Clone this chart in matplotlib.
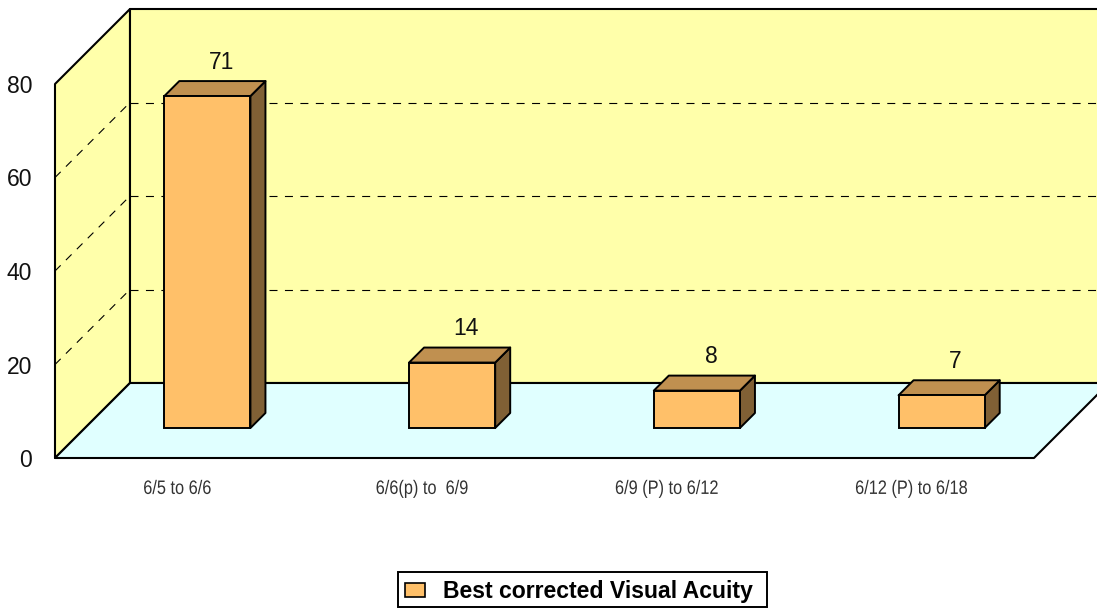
import matplotlib
matplotlib.use("Agg")
import matplotlib.pyplot as plt
from matplotlib.patches import Polygon, Patch, Rectangle
from matplotlib.patheffects import AbstractPathEffect
from matplotlib.transforms import Affine2D, IdentityTransform

categories = ["6/5 to 6/6", "6/6(p) to  6/9", "6/9 (P) to 6/12", "6/12 (P) to 6/18"]
values = [71, 14, 8, 7]
y_ticks = [0, 20, 40, 60, 80]
grid_values = [20, 40, 60]
series_name = "Best corrected Visual Acuity"

WALL = "#FFFFAA"
FLOOR = "#E0FFFF"
BAR_FRONT = "#FFC069"
BAR_TOP = "#C09050"
BAR_SIDE = "#806035"

W, H = 1097, 608
DEPTH = 75      # wall depth in pixels
BAR_NEAR = 30   # bars stand this far behind the front plane
BAR_FAR = 45
BAR_WIDTH = 0.352

plt.rcParams["font.family"] = ["Liberation Sans", "DejaVu Sans"]


class Narrow(AbstractPathEffect):
    # squeeze a text horizontally about its centre
    def __init__(self, sx):
        super().__init__()
        self.sx = sx

    def draw_path(self, renderer, gc, tpath, affine, rgbFace=None):
        ext = tpath.get_extents()
        c = (ext.x0 + ext.x1) / 2
        squeeze = Affine2D().translate(-c, 0).scale(self.sx, 1).translate(c, 0)
        renderer.draw_path(gc, tpath, squeeze + affine, rgbFace)


fig = plt.figure(figsize=(W / 100, H / 100), dpi=100)
ax = fig.add_axes([55 / W, (H - 458) / H, 979 / W, 374 / H])
ax.set_xlim(-0.5, 3.5)
ax.set_ylim(0, 80)
ax.patch.set_visible(False)
for s in ax.spines.values():
    s.set_visible(False)


def px(x, y, d=0):
    # data point pushed back by d pixels, in display coords
    a, b = ax.transData.transform((x, y))
    return a + d, b + d


def face(points, color, lw=1.4, z=1):
    ax.add_patch(Polygon(points, closed=True, facecolor=color, edgecolor="black", lw=lw,
                         joinstyle="round", transform=IdentityTransform(), clip_on=False, zorder=z))


def dashed(a, b):
    ax.plot([a[0], b[0]], [a[1], b[1]], color="black", lw=0.8, ls=(0, (7.2, 6.7)),
            transform=IdentityTransform(), clip_on=False, zorder=2)


x0, x1 = ax.get_xlim()

# walls and floor
face([px(x0, 0), px(x0, 0, DEPTH), px(x0, 80, DEPTH), px(x0, 80)], WALL, lw=1.5)
face([px(x0, 0, DEPTH), px(x1, 0, DEPTH), px(x1, 80, DEPTH), px(x0, 80, DEPTH)], WALL, lw=1.5)
face([px(x0, 0), px(x1, 0), px(x1, 0, DEPTH), px(x0, 0, DEPTH)], FLOOR, lw=1.5)

# dashed gridlines across both walls
for g in grid_values:
    dashed(px(x0, g), px(x0, g, DEPTH))
    dashed(px(x0, g, DEPTH), px(x1, g, DEPTH))

# front faces of the bars, side and top faces are added around them
xs = range(len(values))
near = ax.transData + Affine2D().translate(BAR_NEAR, BAR_NEAR)
ax.bar(xs, values, width=BAR_WIDTH, color=BAR_FRONT, edgecolor="black", lw=1.4,
       transform=near, clip_on=False, zorder=4)
for i, v in zip(xs, values):
    l, r = i - BAR_WIDTH / 2, i + BAR_WIDTH / 2
    face([px(r, 0, BAR_NEAR), px(r, 0, BAR_FAR), px(r, v, BAR_FAR), px(r, v, BAR_NEAR)], BAR_SIDE, z=3)
    face([px(l, v, BAR_NEAR), px(l, v, BAR_FAR), px(r, v, BAR_FAR), px(r, v, BAR_NEAR)], BAR_TOP, z=3)
    ax.annotate(str(v), (i, v), xytext=(BAR_NEAR + 14, BAR_NEAR + 34), textcoords="offset pixels",
                ha="center", va="center", fontsize=16.5, color="#111111", zorder=5)

ax.set_yticks(y_ticks)
ax.tick_params(axis="y", length=0, pad=23 * 0.72, labelsize=16.5, labelcolor="#111111")
ax.set_xticks(list(xs))
ax.set_xticklabels(categories, fontsize=14, color="#333333")
ax.tick_params(axis="x", length=0, pad=16.5)
for t in ax.get_xticklabels():
    t.set_path_effects([Narrow(0.84)])

# legend with its own frame, slightly wider than the entry
fig.add_artist(Rectangle((398 / W, (H - 607) / H), 369 / W, 35 / H, transform=fig.transFigure,
                         facecolor="white", edgecolor="black", lw=1.4))
handle = Patch(facecolor=BAR_FRONT, edgecolor="black", lw=1.2, label=series_name)
leg = fig.legend(handles=[handle], loc="center left", bbox_to_anchor=(398 / W, (H - 591.5) / H),
                 frameon=False,
                 prop={"family": "Liberation Sans", "weight": "bold", "size": 16.6},
                 handlelength=0.87, handleheight=0.6, handletextpad=0.78, borderpad=0.32, borderaxespad=0)

fig.savefig("out.png", dpi=100)
